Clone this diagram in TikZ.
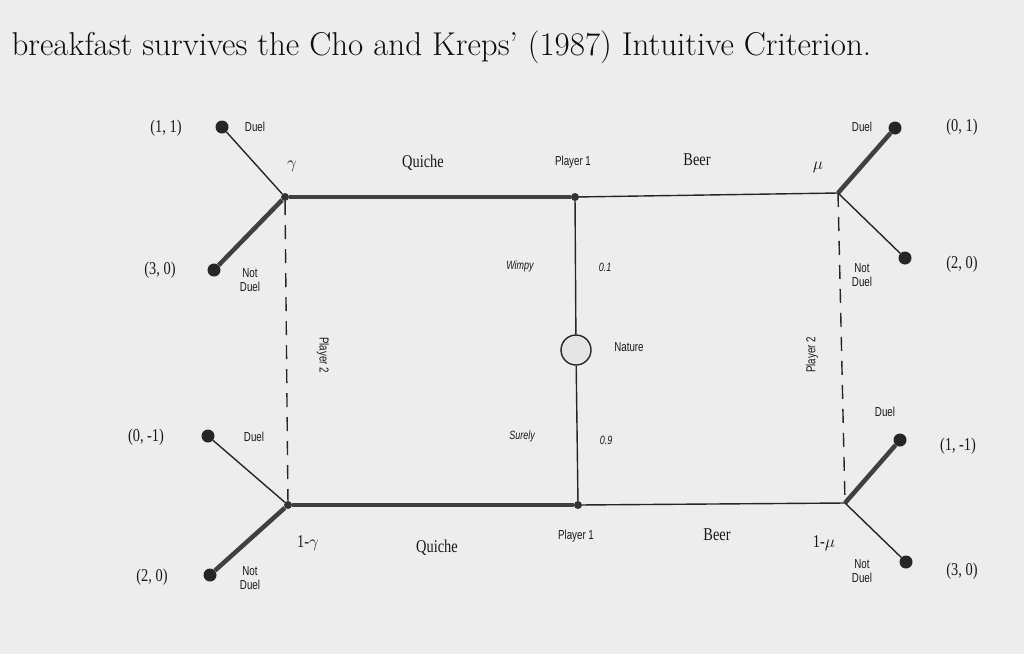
\documentclass[tikz,border=0pt]{standalone}
\usepackage{fontspec}
\newfontfamily\lab[FakeStretch=0.8]{Liberation Serif}
\newfontfamily\sml[FakeStretch=0.75]{Liberation Sans}
\begin{document}
\begin{tikzpicture}[x=1pt,y=-1pt,
  thin/.style={line width=1.4pt,draw=black!85},
  thick/.style={line width=4.5pt,draw=black!75},
  dot/.style={circle,fill=black!85,inner sep=0pt,minimum size=13pt},
  sdot/.style={circle,fill=black!80,inner sep=0pt,minimum size=8pt},
  pay/.style={font=\lab\fontsize{18}{19}\selectfont,text=black!90},
  tiny/.style={font=\sml\fontsize{13}{14}\selectfont,text=black!90,align=center},
  lbl/.style={font=\lab\fontsize{18}{19}\selectfont,text=black!90},
  it/.style={font=\sml\itshape\fontsize{12}{13}\selectfont,text=black!90}]
\fill[black!7] (0,0) rectangle (1024,654);
\useasboundingbox (0,0) rectangle (1024,654);
\node[anchor=west,font=\fontsize{33}{38}\selectfont,text=black!95] (title) at (8,47) {breakfast survives the Cho and Kreps' (1987) Intuitive Criterion.};
% decision nodes
\node[sdot] (TL) at (285,197) {};
\node[sdot] (TM) at (575,197) {};
\node[sdot] (BL) at (288,505) {};
\node[sdot] (BM) at (578,505) {};
\coordinate (TR) at (838,193);
\coordinate (BR) at (845,503);
\node[circle,draw=black!85,line width=1.4pt,fill=white!90!black,minimum width=24pt,minimum height=30pt,inner sep=0pt] (N) at (576,350) {};
% terminal
\node[dot] (a) at (222,127) {};
\node[dot] (b) at (214,270) {};
\node[dot] (c) at (895,128) {};
\node[dot] (d) at (905,258) {};
\node[dot] (e) at (208,436) {};
\node[dot] (f) at (210,575) {};
\node[dot] (g) at (900,440) {};
\node[dot] (h) at (906,562) {};
% edges
\draw[thick] (TL) -- (TM);
\draw[thin] (TM) -- (TR);
\draw[thick] (BL) -- (BM);
\draw[thin] (BM) -- (BR);
\draw[thin] (TM) -- (N) -- (BM);
\draw[thin] (TL) -- (a);
\draw[thick] (TL) -- (b);
\draw[thick] (TR) -- (c);
\draw[thin] (TR) -- (d);
\draw[thin] (BL) -- (e);
\draw[thick] (BL) -- (f);
\draw[thick] (BR) -- (g);
\draw[thin] (BR) -- (h);
\draw[thin,dash pattern=on 14pt off 10pt] (TL) -- (BL);
\draw[thin,dash pattern=on 14pt off 10pt] (TR) -- (BR);
% payoffs
\node[pay] (p1) at (166,128) {(1, 1)};
\node[pay] (p2) at (160,270) {(3, 0)};
\node[pay] (p3) at (146,437) {(0, -1)};
\node[pay] (p4) at (152,577) {(2, 0)};
\node[pay] (p5) at (962,127) {(0, 1)};
\node[pay] (p6) at (962,264) {(2, 0)};
\node[pay] (p7) at (958,446) {(1, -1)};
\node[pay] (p8) at (962,571) {(3, 0)};
% action labels
\node[tiny] (l1) at (255,127) {Duel};
\node[tiny] (l2) at (250,280) {Not\\Duel};
\node[tiny] (l3) at (254,437) {Duel};
\node[tiny] (l4) at (250,578) {Not\\Duel};
\node[tiny] (l5) at (862,127) {Duel};
\node[tiny] (l6) at (862,275) {Not\\Duel};
\node[tiny] (l7) at (885,412) {Duel};
\node[tiny] (l8) at (862,571) {Not\\Duel};
\node[lbl] (q1) at (423,163) {Quiche};
\node[lbl] (b1) at (697,160) {Beer};
\node[lbl] (q2) at (437,548) {Quiche};
\node[lbl] (b2) at (717,535) {Beer};
\node[tiny] (pl1) at (573,162) {Player 1};
\node[tiny] (pl2) at (576,536) {Player 1};
\node[lbl] (y1) at (292,166) {$\gamma$};
\node[lbl] (m1) at (818,167) {$\mu$};
\node[lbl] (y2) at (308,543) {1-$\gamma$};
\node[lbl] (m2) at (824,543) {1-$\mu$};
\node[it] (w) at (520,266) {Wimpy};
\node[it] (w1) at (605,267) {0.1};
\node[it] (s) at (522,436) {Surely};
\node[it] (s1) at (606,440) {0.9};
\node[tiny] (nat) at (629,347) {Nature};
\node[tiny,rotate=-90] (P2a) at (323,355) {Player 2};
\node[tiny,rotate=90] (P2b) at (812,355) {Player 2};
\end{tikzpicture}
\end{document}
